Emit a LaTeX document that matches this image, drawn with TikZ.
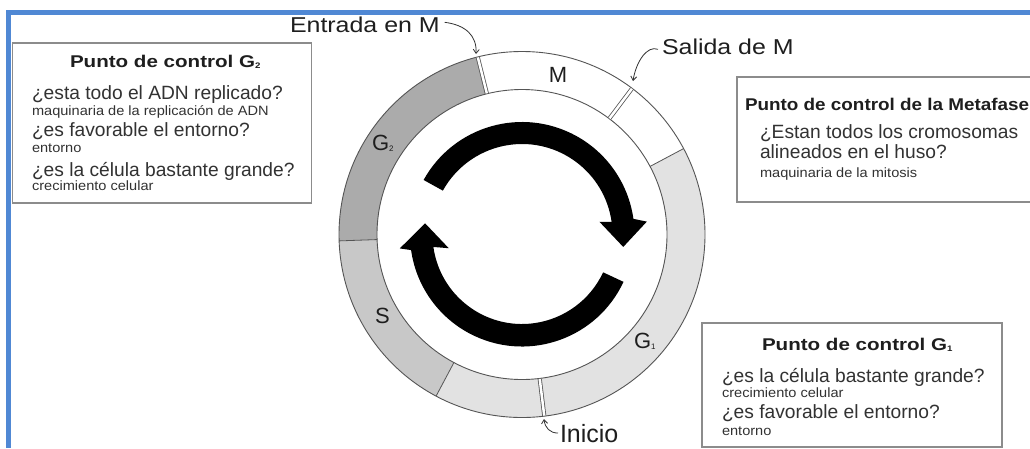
\documentclass[tikz,border=0pt]{standalone}
\usepackage{fontspec}
\setmainfont{Liberation Sans}
\usetikzlibrary{arrows.meta}
\definecolor{blueframe}{RGB}{80,136,212}
\definecolor{gtwo}{RGB}{171,171,171}
\definecolor{sfill}{RGB}{200,200,200}
\definecolor{gone}{RGB}{226,226,226}
\definecolor{ringline}{RGB}{85,85,85}
\definecolor{txt}{RGB}{50,50,50}
\definecolor{ttl}{RGB}{30,30,30}
\definecolor{boxline}{RGB}{140,140,140}
\newcommand{\qfont}{\fontsize{19.2}{22}\selectfont}
\newcommand{\smalltxt}[1]{\scalebox{1.08}[1]{\fontsize{13.5}{15}\selectfont #1}}
\newcommand{\titletxt}[2][1.21]{\scalebox{#1}[1]{\fontsize{17}{19}\selectfont\bfseries #2}}
\newcommand{\lbltxt}[1]{\scalebox{1.16}[1]{\fontsize{21.5}{24}\selectfont #1}}
\newcommand{\subdig}[1]{\raisebox{-1.5pt}{\fontsize{8}{8}\selectfont #1}}
\begin{document}
\begin{tikzpicture}[x=1pt,y=-1pt,
  txtnode/.style={inner sep=0pt, outer sep=0pt, anchor=base west, text=txt},
  qline/.style={txtnode, font=\qfont},
  sline/.style={txtnode},
  ttlnode/.style={txtnode, text=ttl},
  lblnode/.style={txtnode, text=ttl},
  ringlbl/.style={txtnode, text=ttl, font=\fontsize{22}{24}\selectfont},
  cpbox/.style={draw=boxline, line width=1.5pt, fill=white, inner sep=0pt, outer sep=0pt, anchor=north west},
  ringsep/.style={draw=ringline, line width=0.8pt},
  dblsep/.style={draw=ringline, line width=0.8pt, double=white, double distance=2.5pt},
  bigarrow/.style={fill=black},
  lblarrow/.style={draw=txt, line width=0.8pt, -{Straight Barb[length=4pt,width=6pt]}}
]
\useasboundingbox (0,0) rectangle (1030,448);
\fill[white] (0,0) rectangle (1030,448);
% blue frame
\fill[blueframe] (6,10) rectangle (1030,15);
\fill[blueframe] (6,10) rectangle (11,448);

% ring
\begin{scope}[shift={(522,234.5)}, yscale=-1]
  \coordinate (cc) at (0,0);
  \fill[gtwo] (104:183) arc[start angle=104,end angle=182,radius=183] -- (182:145) arc[start angle=182,end angle=104,radius=145] -- cycle;
  \fill[sfill] (182:183) arc[start angle=182,end angle=242,radius=183] -- (242:145) arc[start angle=242,end angle=182,radius=145] -- cycle;
  \fill[gone] (242:183) arc[start angle=242,end angle=388,radius=183] -- (388:145) arc[start angle=388,end angle=242,radius=145] -- cycle;
  \draw[ringline, line width=0.9pt] (cc) circle[radius=183];
  \draw[ringline, line width=0.9pt] (cc) circle[radius=145];
  \draw[ringsep] (28:145) -- (28:183);
  \draw[ringsep] (182:145) -- (182:183);
  \draw[ringsep] (242:145) -- (242:183);
  \draw[dblsep] (104:145.5) -- (104:182.5);
  \draw[dblsep] (53:145.5) -- (53:182.5);
  \draw[dblsep] (277:145.5) -- (277:182.5);
  % big arrows
  \fill[bigarrow] (151:112.5) arc[start angle=151,end angle=8,radius=112.5] -- (5.9:125.5) -- (-7:102) -- (9.3:78.5) -- (8:90.5) arc[start angle=8,end angle=151,radius=90.5] -- cycle;
  \fill[bigarrow] (-25:112) arc[start angle=-25,end angle=-172,radius=112] -- (-173.5:123) -- (173.4:97.6) -- (-169.4:74.5) -- (-172:89.5) arc[start angle=-172,end angle=-25,radius=89.5] -- cycle;
\end{scope}

% ring labels
\node[ringlbl, anchor=base] (mlbl) at (558,82.7) {M};
\node[ringlbl] (g2lbl) at (372,150) {G\subdig{2}};
\node[ringlbl] (slbl) at (375,323) {S};
\node[ringlbl] (g1lbl) at (634,348) {G\subdig{1}};

% outer labels
\node[lblnode] (entrada) at (290,32) {\lbltxt{Entrada en M}};
\node[lblnode] (salida) at (662,54) {\lbltxt{Salida de M}};
\node[lblnode, font=\fontsize{25}{27}\selectfont] (inicio) at (560,442) {Inicio};
\coordinate (entradaPt) at (476,54);
\coordinate (salidaPt) at (633,81);
\coordinate (inicioPt) at (544,419);
\draw[lblarrow] ([xshift=5pt,yshift=2pt]entrada.east) .. controls (466,25) and (477,36) .. (entradaPt);
\draw[lblarrow] ([xshift=-4pt,yshift=-3pt]salida.west) .. controls (647,45) and (636,62) .. (salidaPt);
\draw[lblarrow] ([xshift=-2pt,yshift=0pt]inicio.west) .. controls (550,433) and (545,428) .. (inicioPt);

% G2 box
\node[cpbox, minimum width=299pt, minimum height=160pt] (g2box) at (12.7,43) {};
\node[ttlnode] (g2title) at (70,67) {\titletxt{Punto de control G\subdig{2}}};
\node[qline] (g2q1) at (32,99.3) {¿esta todo el ADN replicado?};
\node[sline] (g2s1) at (32,115) {\smalltxt{maquinaria de la replicación de ADN}};
\node[qline] (g2q2) at (32,136.5) {¿es favorable el entorno?};
\node[sline] (g2s2) at (32,152.7) {\smalltxt{entorno}};
\node[qline] (g2q3) at (32,176.5) {¿es la célula bastante grande?};
\node[sline] (g2s3) at (32,190.5) {\smalltxt{crecimiento celular}};

% Metaphase box
\node[cpbox, minimum width=310pt, minimum height=125pt] (mbox) at (737,77) {};
\node[ttlnode] (mtitle) at (745,110) {\titletxt[1.11]{Punto de control de la Metafase}};
\node[qline] (mq1) at (760,138) {¿Estan todos los cromosomas};
\node[qline] (mq2) at (760,158) {alineados en el huso?};
\node[sline] (ms1) at (760,177) {\smalltxt{maquinaria de la mitosis}};

% G1 box
\node[cpbox, minimum width=300pt, minimum height=124pt] (g1box) at (702,323) {};
\node[ttlnode] (g1title) at (762,350) {\titletxt{Punto de control G\subdig{1}}};
\node[qline] (g1q1) at (722,382) {¿es la célula bastante grande?};
\node[sline] (g1s1) at (722,397) {\smalltxt{crecimiento celular}};
\node[qline] (g1q2) at (722,418) {¿es favorable el entorno?};
\node[sline] (g1s2) at (722,435) {\smalltxt{entorno}};
\end{tikzpicture}
\end{document}
